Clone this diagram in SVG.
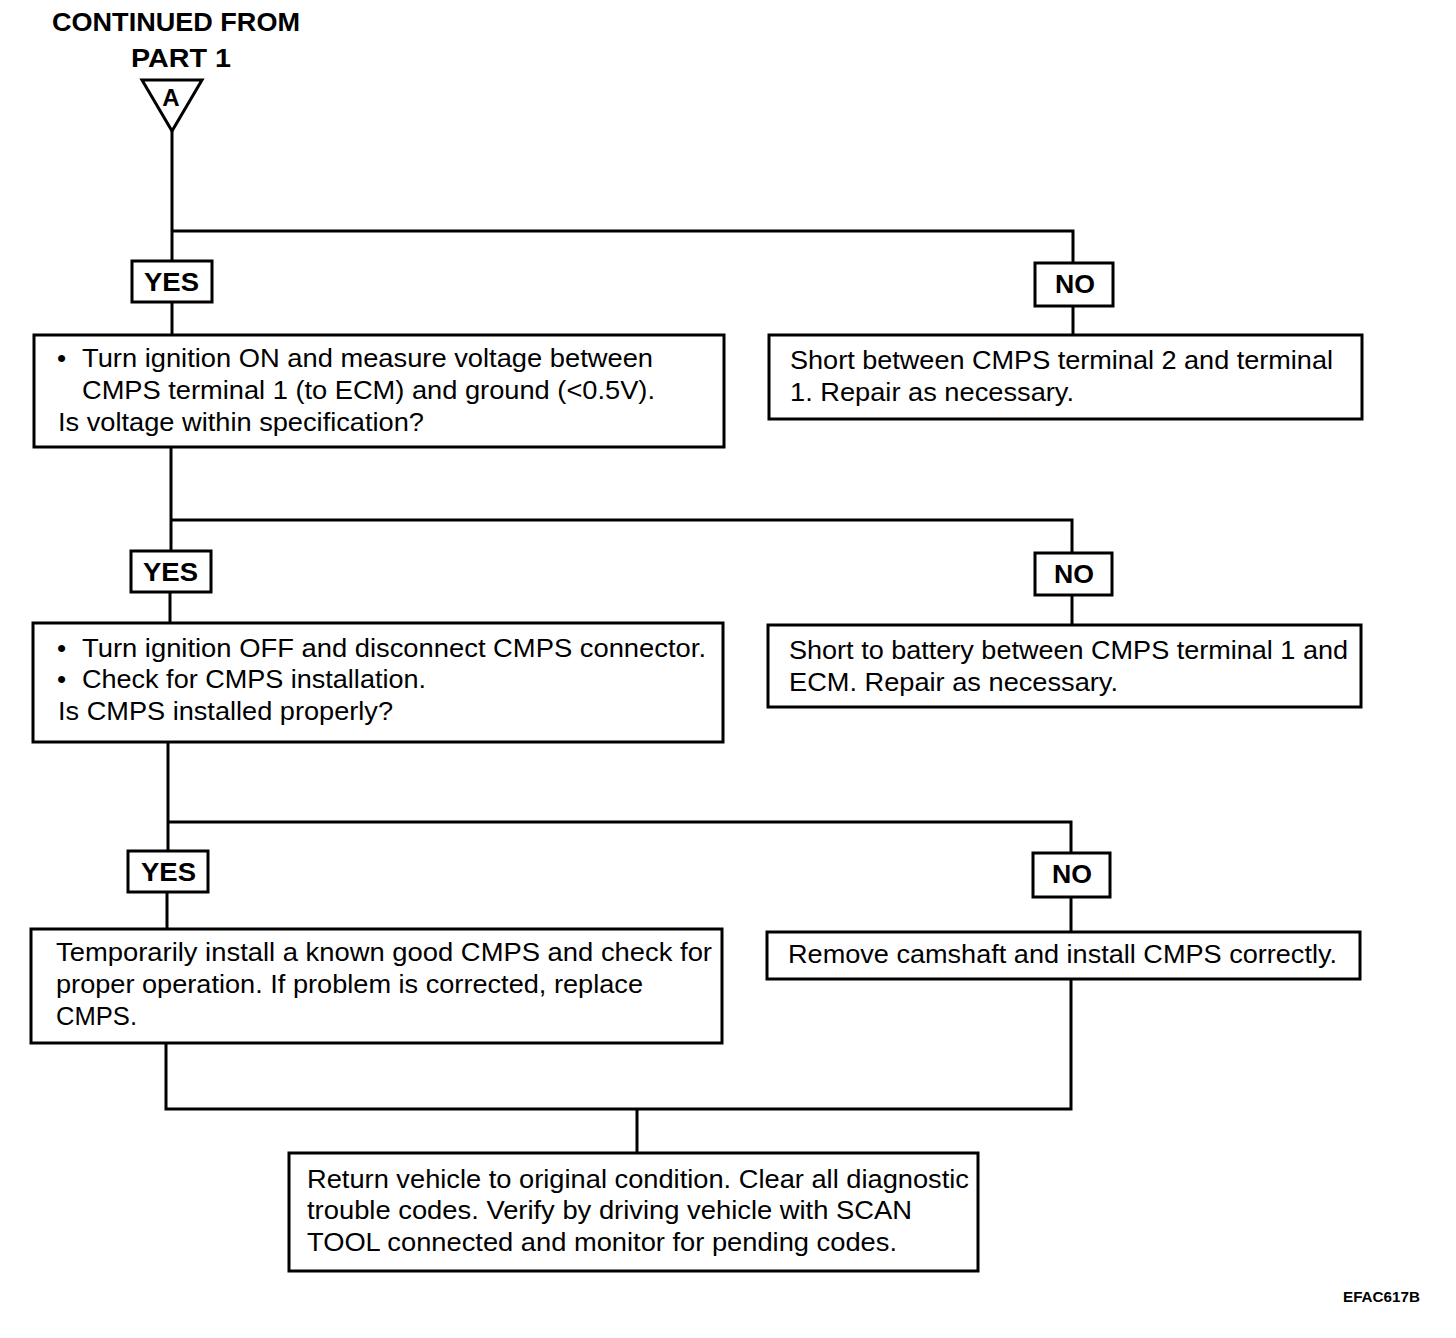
<svg xmlns="http://www.w3.org/2000/svg" width="1456" height="1338" viewBox="0 0 1456 1338">
<style>
.box{fill:#fff;stroke:#000;stroke-width:3}
.ln{fill:none;stroke:#000;stroke-width:3}
.t{font-family:"Liberation Sans",Arial,sans-serif;font-size:26px;fill:#000}
.b{font-family:"Liberation Sans",Arial,sans-serif;font-size:25px;font-weight:bold;fill:#000}
.sm{font-size:14px}
.a{font-size:24px}
</style>
<rect width="1456" height="1338" fill="#fff"/>
<g id="start">
<text class="b" x="52" y="31" textLength="248" lengthAdjust="spacingAndGlyphs">CONTINUED FROM</text>
<text class="b" x="131" y="67" textLength="100" lengthAdjust="spacingAndGlyphs">PART  1</text>
<polygon class="box" points="142,80 202,80 172,131"/>
<text class="b a" x="171" y="106" text-anchor="middle">A</text>
</g>
<g id="connectors">
<polyline class="ln" points="172,131 172,261"/>
<polyline class="ln" points="172,231 1073,231 1073,263"/>
<line class="ln" x1="172" y1="302" x2="172" y2="335"/>
<line class="ln" x1="1073" y1="306" x2="1073" y2="335"/>
<polyline class="ln" points="171,447 171,551"/>
<polyline class="ln" points="171,520 1072,520 1072,553"/>
<line class="ln" x1="170" y1="592" x2="170" y2="623"/>
<line class="ln" x1="1072" y1="595" x2="1072" y2="625"/>
<polyline class="ln" points="168,742 168,851"/>
<polyline class="ln" points="168,822 1071,822 1071,853"/>
<line class="ln" x1="167" y1="892" x2="167" y2="929"/>
<line class="ln" x1="1071" y1="897" x2="1071" y2="932"/>
<polyline class="ln" points="166,1043 166,1109 1071,1109 1071,979"/>
<line class="ln" x1="637" y1="1109" x2="637" y2="1153"/>
</g>
<g id="yes1"><rect class="box" x="132" y="261" width="80" height="41"/><text class="b" x="144" y="291" textLength="55" lengthAdjust="spacingAndGlyphs">YES</text></g>
<g id="no1"><rect class="box" x="1035" y="263" width="78" height="43"/><text class="b" x="1055" y="293" textLength="40" lengthAdjust="spacingAndGlyphs">NO</text></g>
<g id="check1">
<rect class="box" x="34" y="335" width="690" height="112"/>
<text class="t" x="57" y="367">•</text>
<text class="t" x="82" y="367" textLength="571" lengthAdjust="spacingAndGlyphs">Turn ignition ON and measure voltage between</text>
<text class="t" x="82" y="399" textLength="573" lengthAdjust="spacingAndGlyphs">CMPS terminal 1 (to ECM) and ground (&lt;0.5V).</text>
<text class="t" x="58" y="431" textLength="366" lengthAdjust="spacingAndGlyphs">Is voltage within specification?</text>
</g>
<g id="short1">
<rect class="box" x="769" y="335" width="593" height="84"/>
<text class="t" x="790" y="369" textLength="543" lengthAdjust="spacingAndGlyphs">Short between CMPS terminal 2 and terminal</text>
<text class="t" x="790" y="401" textLength="284" lengthAdjust="spacingAndGlyphs">1. Repair as necessary.</text>
</g>
<g id="yes2"><rect class="box" x="131" y="551" width="80" height="41"/><text class="b" x="143" y="581" textLength="55" lengthAdjust="spacingAndGlyphs">YES</text></g>
<g id="no2"><rect class="box" x="1035" y="553" width="77" height="42"/><text class="b" x="1054" y="583" textLength="40" lengthAdjust="spacingAndGlyphs">NO</text></g>
<g id="check2">
<rect class="box" x="33" y="623" width="690" height="119"/>
<text class="t" x="57" y="657">•</text>
<text class="t" x="82" y="657" textLength="624" lengthAdjust="spacingAndGlyphs">Turn ignition OFF and disconnect CMPS connector.</text>
<text class="t" x="57" y="688">•</text>
<text class="t" x="82" y="688" textLength="344" lengthAdjust="spacingAndGlyphs">Check for CMPS installation.</text>
<text class="t" x="58" y="720" textLength="335" lengthAdjust="spacingAndGlyphs">Is CMPS installed properly?</text>
</g>
<g id="short2">
<rect class="box" x="768" y="625" width="593" height="82"/>
<text class="t" x="789" y="659" textLength="559" lengthAdjust="spacingAndGlyphs">Short to battery between CMPS terminal 1 and</text>
<text class="t" x="789" y="691" textLength="329" lengthAdjust="spacingAndGlyphs">ECM. Repair as necessary.</text>
</g>
<g id="yes3"><rect class="box" x="128" y="851" width="80" height="41"/><text class="b" x="141" y="881" textLength="55" lengthAdjust="spacingAndGlyphs">YES</text></g>
<g id="no3"><rect class="box" x="1033" y="853" width="77" height="44"/><text class="b" x="1052" y="883" textLength="40" lengthAdjust="spacingAndGlyphs">NO</text></g>
<g id="replace">
<rect class="box" x="31" y="929" width="691" height="114"/>
<text class="t" x="56" y="961" textLength="656" lengthAdjust="spacingAndGlyphs">Temporarily install a known good CMPS and check for</text>
<text class="t" x="56" y="993" textLength="587" lengthAdjust="spacingAndGlyphs">proper operation. If problem is corrected, replace</text>
<text class="t" x="56" y="1025" textLength="81" lengthAdjust="spacingAndGlyphs">CMPS.</text>
</g>
<g id="remove">
<rect class="box" x="767" y="932" width="593" height="47"/>
<text class="t" x="788" y="963" textLength="549" lengthAdjust="spacingAndGlyphs">Remove camshaft and install CMPS correctly.</text>
</g>
<g id="final">
<rect class="box" x="289" y="1153" width="689" height="118"/>
<text class="t" x="307" y="1188" textLength="662" lengthAdjust="spacingAndGlyphs">Return vehicle to original condition. Clear all diagnostic</text>
<text class="t" x="307" y="1219" textLength="605" lengthAdjust="spacingAndGlyphs">trouble codes. Verify by driving vehicle with SCAN</text>
<text class="t" x="307" y="1251" textLength="590" lengthAdjust="spacingAndGlyphs">TOOL connected and monitor for pending codes.</text>
</g>
<text class="b sm" x="1343" y="1302" textLength="77" lengthAdjust="spacingAndGlyphs">EFAC617B</text>
</svg>
